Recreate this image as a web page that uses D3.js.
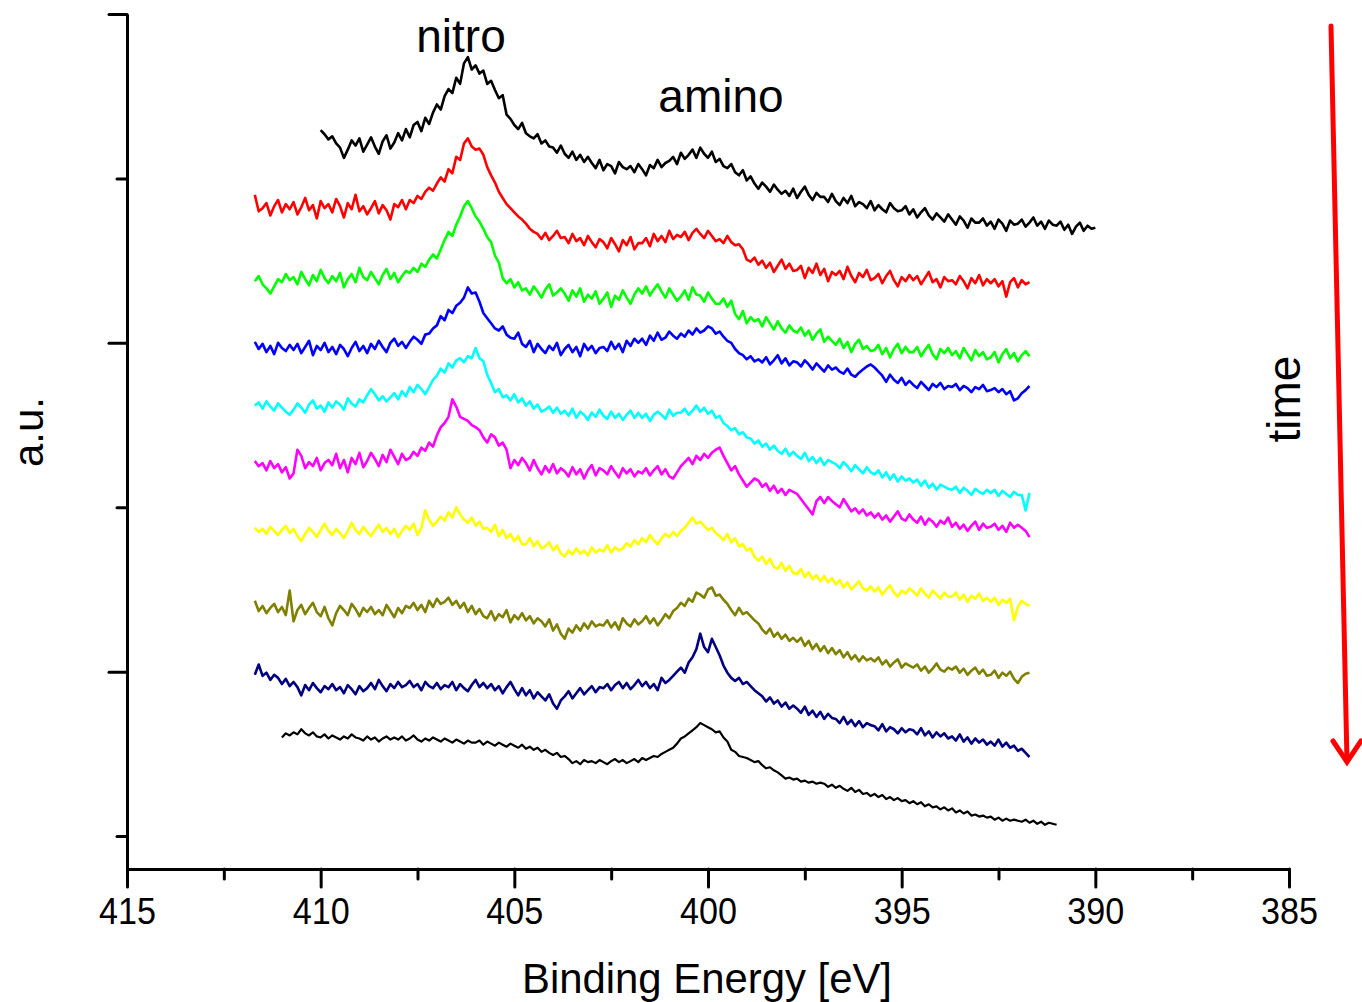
<!DOCTYPE html>
<html>
<head>
<meta charset="utf-8">
<script src="https://cdn.jsdelivr.net/npm/d3@7"></script>
<style>
  body { margin: 0; background: #fff; }
  svg { display: block; }
  text { font-family: "Liberation Sans", Arial, Helvetica, sans-serif; fill: #000; }
</style>
</head>
<body>
<svg id="chart" width="1362" height="1002"></svg>
<script>
// N 1s spectra recorded in sequence (top = first scan, bottom = last scan).
// Each scan: start energy (eV), fixed 0.1 eV step, vertical stacking offset, intensities.
const scanColors = ["#000000", "#ff0000", "#00ff00", "#0000ff", "#00ffff",
                    "#ff00ff", "#ffff00", "#808000", "#000080", "#000000"];
const scanStart = [410.0, 411.7, 411.7, 411.7, 411.7, 411.7, 411.7, 411.7, 411.7, 411.0];
const energyStep = 0.1;
const scanOffset = [580, 531, 463, 424, 327, 288, 220, 152, 74, 6];

const scan1 = [
  107,103,98,101,94,90,80,88,97,92,
  99,86,93,100,91,84,96,102,89,95,
  104,97,108,100,112,115,106,119,113,124,
  132,127,140,147,143,158,152,172,178,166,
  170,162,165,152,155,146,138,141,122,118,
  112,108,114,104,101,99,103,94,97,91,
  90,85,92,84,80,86,78,83,76,81,
  75,70,78,68,74,72,65,76,71,69,
  72,66,74,69,63,73,70,78,71,75,
  77,81,74,85,79,83,88,80,90,84,
  80,86,76,79,72,70,74,66,63,68,
  58,62,55,50,56,52,47,54,49,45,
  48,43,50,41,47,52,44,39,46,42,
  42,37,45,38,34,41,36,43,33,37,
  35,31,38,29,34,30,27,36,31,28,
  29,33,25,30,22,27,31,24,20,26,
  22,18,25,20,15,23,19,12,21,17,
  17,21,14,18,11,20,16,9,19,15,
  16,20,13,17,22,14,18,11,19,15,
  14,18,10,15,6,13,17,9,14,11,
  12];
const scan2 = [
  93,77,80,85,73,82,88,76,84,79,
  86,74,81,90,78,83,70,87,80,84,
  76,89,82,71,85,79,93,77,82,74,
  80,87,75,83,78,69,84,81,88,79,
  88,85,92,89,96,100,97,104,110,106,
  118,114,130,127,143,148,140,137,138,132,
  120,112,105,96,90,84,80,76,72,69,
  65,60,57,55,50,56,49,53,58,51,
  52,46,55,48,51,44,53,47,42,50,
  47,41,51,45,38,49,44,52,40,46,
  46,51,43,55,48,53,47,58,50,54,
  52,57,49,56,60,55,51,58,53,48,
  50,46,53,47,44,45,40,30,28,32,
  25,29,22,27,18,24,30,21,26,19,
  20,24,12,22,17,26,15,21,9,18,
  15,19,11,23,14,8,17,13,20,10,
  12,16,7,14,19,10,4,13,9,15,
  10,14,6,12,18,8,11,3,13,9,
  10,6,14,9,2,12,7,15,5,11,
  7,11,4,9,-6,8,12,3,10,6,
  8];
const scan3 = [
  77,82,74,70,65,72,79,76,84,78,
  81,74,86,79,73,83,77,88,80,75,
  82,77,85,71,79,84,76,90,81,78,
  86,80,74,83,89,79,85,76,82,87,
  85,90,86,94,91,98,103,99,108,117,
  125,121,132,140,150,155,148,140,135,128,
  120,115,102,95,80,75,79,71,76,68,
  70,64,72,67,61,69,74,63,66,70,
  65,58,68,62,70,57,64,60,67,55,
  60,66,52,63,59,68,61,55,64,70,
  65,72,63,69,74,67,61,70,64,58,
  62,68,59,71,64,63,57,66,60,55,
  55,60,52,58,45,40,48,36,42,38,
  40,33,42,36,30,38,31,27,34,29,
  27,32,24,29,20,26,30,18,23,19,
  15,21,12,18,8,16,20,11,14,9,
  10,15,6,12,3,11,16,7,13,8,
  8,13,4,10,15,6,1,11,7,12,
  5,9,2,12,6,0,10,4,8,1,
  3,8,-2,6,11,2,7,-1,5,9,
  4];
const scan4 = [
  57,50,55,47,53,45,56,51,48,54,
  49,55,46,52,58,44,53,49,56,47,
  52,45,54,50,43,51,57,48,53,46,
  55,50,58,52,47,56,60,53,57,51,
  57,62,59,55,64,65,70,73,82,78,
  88,85,92,95,100,110,104,105,96,85,
  80,75,70,68,72,64,61,60,66,55,
  52,58,47,55,50,46,53,49,56,44,
  50,54,47,52,43,55,49,53,46,51,
  52,48,57,50,55,47,58,53,60,56,
  60,54,63,58,66,59,61,67,63,60,
  65,62,68,64,70,66,68,72,70,65,
  67,62,58,56,50,46,44,40,43,38,
  40,37,42,35,39,44,36,41,34,38,
  37,33,39,35,30,36,32,28,34,30,
  32,28,26,31,25,23,27,30,33,35,
  32,28,24,18,25,20,17,22,15,19,
  15,12,18,14,10,16,13,17,11,14,
  13,16,10,14,12,8,13,11,15,9,
  10,12,8,11,6,9,0,2,7,10,
  14];
const scan5 = [
  92,95,89,96,91,87,94,90,86,83,
  88,94,90,85,93,97,89,92,86,95,
  90,96,93,88,99,94,91,98,95,102,
  108,103,97,101,96,100,104,98,106,101,
  110,105,112,108,103,110,117,121,128,124,
  133,129,136,138,134,140,138,148,138,135,
  122,114,105,108,100,102,97,103,95,99,
  92,96,89,93,86,88,91,85,90,84,
  87,82,89,80,86,83,78,85,81,88,
  82,79,86,80,84,78,83,87,80,85,
  80,84,77,83,86,83,79,88,82,85,
  85,89,83,87,92,86,90,84,87,80,
  82,75,72,68,70,64,66,61,60,55,
  58,52,55,49,53,48,45,50,43,47,
  43,40,46,38,42,36,41,34,39,37,
  35,31,37,33,28,34,30,26,32,27,
  25,29,22,27,20,25,18,23,19,21,
  17,20,14,19,12,16,10,15,13,11,
  10,13,7,12,9,5,11,8,6,10,
  7,10,4,9,6,3,8,5,5,-10,
  7];
const scan6 = [
  77,72,75,68,77,70,74,66,71,60,
  65,88,82,70,76,72,80,68,75,78,
  73,84,70,78,66,80,74,85,71,77,
  85,79,72,83,76,88,81,74,84,78,
  80,86,82,90,87,95,91,102,110,114,
  120,137,130,120,118,116,112,110,107,100,
  95,103,100,92,95,88,70,78,73,80,
  75,68,78,70,64,72,66,74,65,70,
  67,62,71,64,69,60,68,73,63,70,
  68,64,72,66,61,70,65,69,62,67,
  65,70,63,68,72,64,69,62,60,66,
  72,76,80,74,82,78,84,80,85,88,
  90,82,75,68,72,64,58,52,56,60,
  58,52,55,48,53,46,50,44,49,47,
  45,40,35,30,25,38,42,36,42,38,
  35,32,40,34,28,31,26,30,24,27,
  22,26,20,24,18,23,28,21,19,25,
  20,17,23,15,21,18,13,19,16,22,
  13,17,11,15,9,14,18,10,16,12,
  13,16,10,14,8,17,12,15,12,9,
  3];
const scan7 = [
  80,76,79,74,81,77,73,78,82,75,
  79,72,67,74,80,76,71,78,84,77,
  73,79,75,70,77,85,78,74,81,76,
  72,78,83,76,80,74,79,71,77,82,
  78,84,73,80,97,88,82,86,91,87,
  95,90,100,93,88,85,90,82,86,79,
  80,76,83,72,78,70,74,67,72,64,
  64,70,62,67,60,62,66,58,63,55,
  52,58,54,60,55,58,53,61,56,59,
  57,63,56,61,58,60,65,62,68,64,
  70,66,73,68,64,70,74,71,76,72,
  77,80,85,90,84,86,82,78,80,75,
  72,68,74,66,70,62,64,58,60,52,
  48,52,45,50,42,40,46,38,43,36,
  35,40,32,37,30,34,28,33,27,31,
  25,29,22,27,20,24,28,21,19,23,
  18,22,15,20,24,17,13,19,16,21,
  18,14,21,16,12,19,15,11,17,13,
  13,17,10,15,8,14,11,16,9,12,
  8,12,5,10,7,11,-10,3,9,6,
  4];
const scan8 = [
  77,67,72,65,70,74,66,71,63,87,
  57,68,73,64,70,75,66,62,71,60,
  53,65,72,68,63,74,69,62,70,66,
  71,64,68,63,73,67,61,70,65,72,
  70,75,68,73,66,77,71,79,74,76,
  80,73,77,70,75,66,72,64,69,62,
  60,67,58,64,61,68,56,63,59,65,
  58,62,55,60,57,52,59,48,54,45,
  40,50,46,53,48,55,50,57,52,54,
  53,58,51,56,49,60,55,52,59,54,
  57,62,55,60,53,58,64,60,67,70,
  75,72,79,76,85,83,80,88,90,82,
  83,78,74,68,63,70,64,66,62,58,
  55,49,45,50,42,46,40,44,38,41,
  37,41,33,38,30,35,28,33,26,31,
  25,29,22,27,20,24,18,23,19,21,
  18,22,15,19,13,17,20,12,16,14,
  12,15,9,13,7,11,16,10,8,12,
  10,13,7,11,5,9,12,6,10,4,
  5,9,2,7,4,8,1,-3,3,6,
  7];
const scan9 = [
  83,93,82,85,78,83,80,74,79,72,
  76,71,63,73,68,75,70,66,72,69,
  74,68,71,65,73,69,64,72,67,70,
  75,69,78,72,67,74,70,76,71,73,
  77,71,74,68,76,72,70,75,69,73,
  71,76,68,74,70,67,73,78,71,75,
  70,74,68,72,65,71,76,69,63,70,
  63,68,60,66,62,58,64,55,50,58,
  62,67,60,65,70,64,68,72,66,71,
  70,74,68,73,76,70,75,69,73,78,
  72,76,70,74,68,80,75,78,82,86,
  90,85,95,100,108,123,110,105,118,110,
  102,92,85,80,77,80,74,76,72,68,
  65,62,57,61,55,58,52,56,50,53,
  50,46,52,44,48,42,47,40,45,41,
  40,36,42,35,39,33,38,32,36,34,
  33,29,35,28,32,30,26,31,27,30,
  29,25,31,24,28,22,27,23,26,21,
  23,19,25,18,22,16,21,17,20,15,
  18,14,20,13,17,12,14,9,11,7,
  3];
const scan10 = [
  90,94,92,95,93,98,94,92,95,91,
  90,93,89,92,90,88,91,89,93,90,
  89,87,91,88,90,86,89,91,88,90,
  88,91,87,89,92,88,86,89,87,90,
  88,86,89,87,85,88,86,84,87,85,
  85,87,83,86,84,82,85,83,81,84,
  82,80,83,79,81,78,80,76,78,75,
  73,75,71,72,69,65,67,64,68,66,
  67,65,68,66,64,67,69,66,68,65,
  67,69,66,70,68,70,72,71,74,76,
  78,80,84,89,91,94,97,100,104,102,
  100,98,95,96,90,86,78,76,72,71,
  70,68,66,67,63,60,61,58,56,53,
  50,51,49,50,47,48,46,47,45,46,
  45,42,44,41,43,40,38,41,37,39,
  35,36,33,35,32,34,30,32,29,31,
  28,29,26,28,25,27,23,25,22,23,
  20,22,19,21,17,19,16,18,14,15,
  13,14,12,13,10,12,9,11,9,10,
  9,8,10,7,9,6,8,5,7,6,
  5];
const scans = [scan1, scan2, scan3, scan4, scan5, scan6, scan7, scan8, scan9, scan10];

// Axis ticks
const xMajorTicks = [415, 410, 405, 400, 395, 390, 385];
const xMinorTicks = [412.5, 407.5, 402.5, 397.5, 392.5, 387.5];
const yMajorTicks = [160, 480, 800];
const yMinorTicks = [0, 320, 640];

const svg = d3.select("#chart");

const x = d3.scaleLinear().domain([415, 385]).range([127, 1289]);
const y = d3.scaleLinear().domain([-32, 800]).range([869, 14]);

// Spectra
const line = d3.line()
  .x(d => x(d.e))
  .y(d => y(d.v));

scans.forEach((vals, i) => {
  const pts = vals.map((v, j) => ({ e: scanStart[i] - j * energyStep, v: scanOffset[i] + v }));
  svg.append("path")
    .datum(pts)
    .attr("d", line)
    .attr("fill", "none")
    .attr("stroke", scanColors[i])
    .attr("stroke-width", i === 9 ? 2.2 : 2.6)
    .attr("stroke-linejoin", "round");
});

// Axes
function styleAxis(g) {
  g.select(".domain").attr("stroke", "#000").attr("stroke-width", 3);
  g.selectAll(".tick line").attr("stroke", "#000").attr("stroke-width", 3).attr("stroke-linecap", "round");
}

const xAxis = svg.append("g").attr("transform", "translate(0,869)")
  .call(d3.axisBottom(x).tickValues(xMajorTicks).tickSize(18).tickSizeOuter(0)
        .tickPadding(11).tickFormat(d3.format("d")))
  .call(styleAxis);
xAxis.selectAll(".tick text")
  .attr("font-size", 37)
  .attr("font-family", "Liberation Sans, Arial, sans-serif")
  .attr("fill", "#000")
  .attr("textLength", 57)
  .attr("lengthAdjust", "spacingAndGlyphs");

svg.append("g").attr("transform", "translate(0,869)")
  .call(d3.axisBottom(x).tickValues(xMinorTicks).tickSize(10).tickFormat(""))
  .call(g => g.select(".domain").remove())
  .call(styleAxis);

svg.append("g").attr("transform", "translate(127,0)")
  .call(d3.axisLeft(y).tickValues(yMajorTicks).tickSize(18).tickSizeOuter(0).tickFormat(""))
  .call(styleAxis);

svg.append("g").attr("transform", "translate(127,0)")
  .call(d3.axisLeft(y).tickValues(yMinorTicks).tickSize(10).tickFormat(""))
  .call(g => g.select(".domain").remove())
  .call(styleAxis);

// Axis titles
svg.append("text")
  .attr("x", 707).attr("y", 993)
  .attr("text-anchor", "middle")
  .attr("font-size", 43)
  .attr("textLength", 370)
  .attr("lengthAdjust", "spacingAndGlyphs")
  .text("Binding Energy [eV]");

svg.append("text")
  .attr("transform", "translate(43,432) rotate(-90)")
  .attr("text-anchor", "middle")
  .attr("font-size", 42)
  .text("a.u.");

// Peak labels
svg.append("text")
  .attr("x", 461).attr("y", 52)
  .attr("text-anchor", "middle")
  .attr("font-size", 46)
  .text("nitro");

svg.append("text")
  .attr("x", 721).attr("y", 112)
  .attr("text-anchor", "middle")
  .attr("font-size", 46)
  .text("amino");

// Time direction arrow
svg.append("text")
  .attr("transform", "translate(1300,399) rotate(-90)")
  .attr("text-anchor", "middle")
  .attr("font-size", 46)
  .text("time");

const arrow = svg.append("g")
  .attr("stroke", "#ff0000")
  .attr("stroke-width", 5)
  .attr("stroke-linecap", "round")
  .attr("fill", "none");
arrow.append("line").attr("x1", 1331).attr("y1", 26).attr("x2", 1347).attr("y2", 761);
arrow.append("polyline").attr("points", "1333,741 1347,762 1361,741");
</script>
</body>
</html>
